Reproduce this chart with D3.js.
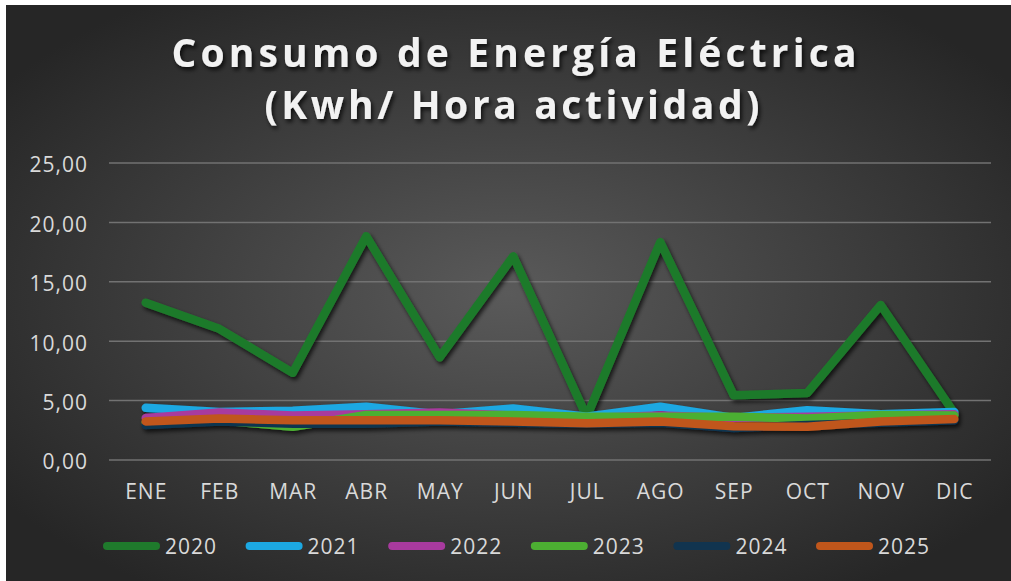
<!DOCTYPE html>
<html><head><meta charset="utf-8">
<script src="https://cdn.jsdelivr.net/npm/d3@7"></script>
<style>html,body{margin:0;padding:0;background:#fff;}svg{display:block;}</style>
</head><body>
<script>
const months = ["ENE","FEB","MAR","ABR","MAY","JUN","JUL","AGO","SEP","OCT","NOV","DIC"];
const years = ["2020","2021","2022","2023","2024","2025"];
const v2020 = [13.2,11.0,7.3,18.8,8.6,17.1,3.6,18.3,5.4,5.6,13.0,3.9];
const v2021 = [4.35,4.0,4.1,4.45,3.8,4.3,3.6,4.45,3.5,4.15,3.8,4.0];
const v2022 = [3.5,3.95,3.7,3.8,3.95,3.7,3.5,3.7,3.5,3.6,3.7,3.8];
const v2023 = [3.1,3.3,2.75,3.75,3.75,3.75,3.6,3.6,3.6,3.45,3.75,3.7];
const v2024 = [2.9,3.2,3.0,3.0,3.2,3.1,3.0,3.1,2.65,2.9,3.1,3.3];
const v2025 = [3.2,3.45,3.3,3.3,3.3,3.2,3.05,3.2,2.8,2.75,3.2,3.4];
const yTicks = [0,5,10,15,20,25];
const colors = ["#1f7a2c","#1ca8e2","#a83a9e","#4caf32","#11344f","#c0561b"];
const seriesValues = [v2020,v2021,v2022,v2023,v2024,v2025];

const W = 1011, H = 581;
const svg = d3.select("body").append("svg").attr("width",W).attr("height",H);
const defs = svg.append("defs");
const rg = defs.append("radialGradient").attr("id","bg").attr("cx","50%").attr("cy","50%").attr("r","62%");
rg.append("stop").attr("offset","0%").attr("stop-color","#5a5a5a");
rg.append("stop").attr("offset","100%").attr("stop-color","#262626");
const f = defs.append("filter").attr("id","sh").attr("x","-10%").attr("y","-10%").attr("width","120%").attr("height","130%");
f.append("feDropShadow").attr("dx",2).attr("dy",3).attr("stdDeviation",2).attr("flood-color","#000").attr("flood-opacity",0.7);
const ft = defs.append("filter").attr("id","tsh").attr("x","-10%").attr("y","-30%").attr("width","120%").attr("height","160%");
ft.append("feDropShadow").attr("dx",2).attr("dy",3).attr("stdDeviation",2).attr("flood-color","#000").attr("flood-opacity",0.75);

svg.append("rect").attr("x",6).attr("y",5).attr("width",W-6).attr("height",H-5).attr("fill","url(#bg)");

// Title
const title = svg.append("g").attr("fill","#f2f2f2").attr("font-family","'Open Sans', sans-serif")
  .attr("font-weight",700).attr("font-size",39).attr("text-anchor","middle").attr("filter","url(#tsh)");
title.append("text").attr("x",514).attr("y",67).attr("textLength",685).attr("lengthAdjust","spacing").text("Consumo de Energía Eléctrica");
title.append("text").attr("x",512).attr("y",119).attr("textLength",495).attr("lengthAdjust","spacing").text("(Kwh/ Hora actividad)");

const x = d3.scalePoint().domain(months).range([109,991]).padding(0.5);
const y = d3.scaleLinear().domain([0,25]).range([459.5,162.5]);

// Y axis + gridlines
const ya = svg.append("g").attr("transform","translate(109,0)")
  .call(d3.axisLeft(y).tickValues(yTicks).tickSize(-882).tickPadding(21)
    .tickFormat(d => d.toFixed(2).replace(".",",")));
ya.select(".domain").remove();
ya.selectAll(".tick line").attr("stroke","#727272").attr("stroke-width",1.5);
ya.selectAll(".tick text").attr("fill","#d9d9d9").attr("font-size",21).attr("dy","0.45em")
  .attr("font-family","'Open Sans', sans-serif").attr("letter-spacing","1px");

// X axis
const xa = svg.append("g").attr("transform","translate(0,459.5)")
  .call(d3.axisBottom(x).tickSize(0));
xa.select(".domain").remove();
xa.selectAll(".tick text").attr("fill","#d9d9d9").attr("font-size",21).attr("y",39).attr("dy",0)
  .attr("font-family","'Open Sans', sans-serif").attr("letter-spacing","1px");

// Lines
const line = d3.line().x((d,i) => x(months[i])).y(d => y(d));
const lg = svg.append("g").attr("filter","url(#sh)");
seriesValues.forEach((vals,k) => {
  lg.append("path").datum(vals).attr("d",line).attr("fill","none")
    .attr("stroke",colors[k]).attr("stroke-width",8.5)
    .attr("stroke-linejoin","round").attr("stroke-linecap","round");
});

// Legend
const lx = d3.scalePoint().domain(years).range([103,816]);
const leg = svg.append("g");
years.forEach((yr,k) => {
  const g = leg.append("g").attr("transform",`translate(${lx(yr)},546)`);
  g.append("line").attr("x1",4).attr("x2",53).attr("y1",0).attr("y2",0)
    .attr("stroke",colors[k]).attr("stroke-width",8).attr("stroke-linecap","round");
  g.append("text").attr("x",62).attr("y",7.5).attr("fill","#d9d9d9").attr("font-size",21)
    .attr("font-family","'Open Sans', sans-serif").attr("letter-spacing","1px").text(yr);
});
</script>
</body></html>
